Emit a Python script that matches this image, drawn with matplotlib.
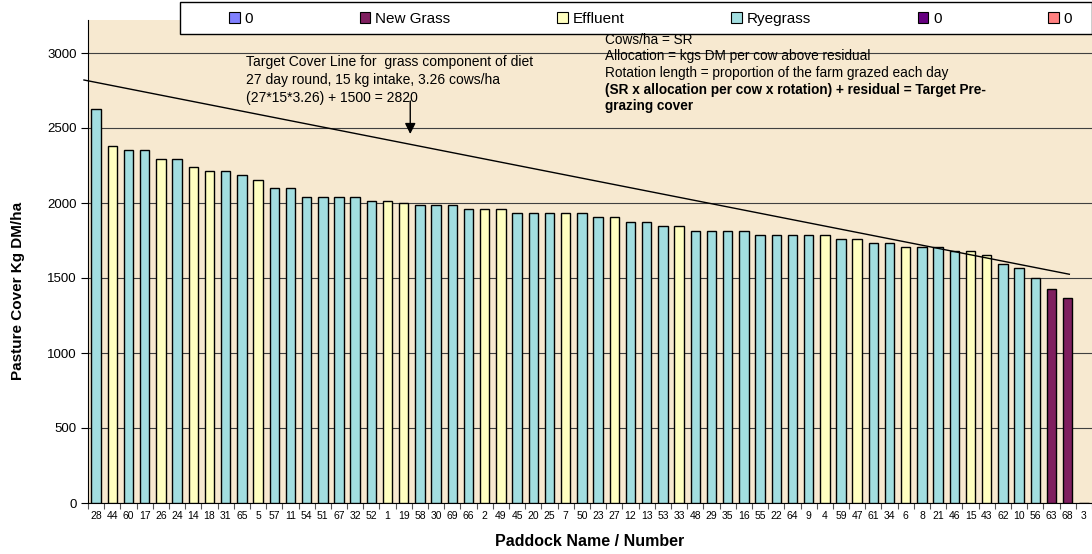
import matplotlib
matplotlib.use("Agg")
import matplotlib.pyplot as plt
from matplotlib.patches import Patch, Rectangle

plt.rcParams['font.family'] = ['Liberation Sans', 'DejaVu Sans']

# paddocks in ranked order, pasture cover (kg DM/ha) and paddock type
paddocks = ['28', '44', '60', '17', '26', '24', '14', '18', '31', '65',
            '5', '57', '11', '54', '51', '67', '32', '52', '1', '19',
            '58', '30', '69', '66', '2', '49', '45', '20', '25', '7',
            '50', '23', '27', '12', '13', '53', '33', '48', '29', '35',
            '16', '55', '22', '64', '9', '4', '59', '47', '61', '34',
            '6', '8', '21', '46', '15', '43', '62', '10', '56', '63',
            '68', '3']
cover = [2630, 2380, 2353, 2353, 2296, 2296, 2238, 2211, 2211, 2184,
         2156, 2100, 2100, 2042, 2042, 2042, 2042, 2015, 2015, 2000,
         1987, 1987, 1987, 1958, 1958, 1958, 1931, 1931, 1931, 1931,
         1931, 1905, 1905, 1875, 1875, 1845, 1845, 1815, 1815, 1815,
         1815, 1787, 1787, 1787, 1787, 1787, 1760, 1760, 1733, 1733,
         1707, 1707, 1707, 1680, 1680, 1653, 1596, 1567, 1502, 1427,
         1369, 0]
crop = ['R', 'E', 'R', 'R', 'E', 'R', 'E', 'E', 'R', 'R',
        'E', 'R', 'R', 'R', 'R', 'R', 'R', 'R', 'E', 'E',
        'R', 'R', 'R', 'R', 'E', 'E', 'R', 'R', 'R', 'E',
        'R', 'R', 'E', 'R', 'R', 'R', 'E', 'R', 'R', 'R',
        'R', 'R', 'R', 'R', 'R', 'E', 'R', 'E', 'R', 'R',
        'E', 'R', 'R', 'R', 'E', 'E', 'R', 'R', 'R', 'N',
        'N', 'R']

legend_labels = ['0', 'New Grass', 'Effluent', 'Ryegrass', '0', '0']
legend_colors = ['#8080FF', '#7F1F5F', '#FFFFC0', '#A2DEE0', '#660080', '#FF8080']
crop_colors = {'N': '#7F1F5F', 'E': '#FFFFC0', 'R': '#A2DEE0'}

# target cover line (kg DM/ha) and arrow
target_x = [-0.75, 60.1]
target_y = [2820, 1525]
arrow_x = 19.4
arrow_y = [2680, 2460]

fig = plt.figure(figsize=(10.92, 5.54), dpi=100)
ax = fig.add_axes([88 / 1092, 1 - 503 / 554, 1004 / 1092, 483 / 554])
ax.set_facecolor('#F7E9D0')

xs = list(range(len(paddocks)))
ax.bar(xs, cover, width=0.58, color=[crop_colors[c] for c in crop],
       edgecolor='black', linewidth=1, zorder=3)

ax.set_xlim(-0.5, len(paddocks) - 0.5)
ax.set_ylim(0, 3220)
ax.set_yticks(range(0, 3001, 500))
ax.yaxis.grid(True, color='#404040', linewidth=0.8, zorder=0)
ax.set_axisbelow(True)

ax.set_xticks(xs)
ax.set_xticklabels(paddocks, fontsize=7.5)
ax.set_xticks([i - 0.5 for i in range(len(paddocks) + 1)], minor=True)
ax.tick_params(axis='x', which='major', length=0, pad=6)
ax.tick_params(axis='x', which='minor', length=4, width=0.8, color='#555555')
ax.tick_params(axis='y', length=5, width=0.8, labelsize=9.5, pad=3)

for s in ['top', 'right']:
    ax.spines[s].set_visible(False)
ax.spines['left'].set_linewidth(0.8)
ax.spines['bottom'].set_linewidth(0.8)

ax.set_ylabel('Pasture Cover Kg DM/ha', fontsize=11, fontweight='bold')
ax.yaxis.label.set_va('center')
ax.yaxis.set_label_coords(-0.0697, 0.44)
ax.set_xlabel('Paddock Name / Number', fontsize=11.5, fontweight='bold')
ax.xaxis.label.set_va('center')
ax.xaxis.set_label_coords(0.5, -0.079)

ax.plot(target_x, target_y, color='black', linewidth=1, zorder=4, clip_on=False)
ax.annotate('', xy=(arrow_x, arrow_y[1]), xytext=(arrow_x, arrow_y[0]),
            arrowprops=dict(arrowstyle='-|>', color='black', lw=1,
                            mutation_scale=16, shrinkA=0, shrinkB=0),
            zorder=5)

# legend box across the top
box = Rectangle((180 / 1092, 1 - 34 / 554), 912 / 1092, 32 / 554,
                transform=fig.transFigure, facecolor='white',
                edgecolor='black', linewidth=1, zorder=2)
fig.add_artist(box)
handles = [Patch(facecolor=c, edgecolor='black', linewidth=0.8) for c in legend_colors]
fig.legend(handles, legend_labels, loc='center left',
           bbox_to_anchor=(229 / 1092, 1 - 19 / 554), ncol=6, frameon=False,
           borderpad=0, borderaxespad=0, handlelength=0.7, handleheight=0.7,
           handletextpad=0.3, columnspacing=7.0, fontsize=11)

note1 = ['Target Cover Line for  grass component of diet',
         '27 day round, 15 kg intake, 3.26 cows/ha',
         '(27*15*3.26) + 1500 = 2820']
for i, line in enumerate(note1):
    fig.text(246 / 1092, 1 - (62 + 18 * i) / 554, line, fontsize=10,
             va='center', ha='left', zorder=10)

note2 = ['Cows/ha = SR',
         'Allocation = kgs DM per cow above residual',
         'Rotation length = proportion of the farm grazed each day',
         '(SR x allocation per cow x rotation) + residual = Target Pre-',
         'grazing cover']
for i, line in enumerate(note2):
    fig.text(605 / 1092, 1 - (39.5 + 16.7 * i) / 554, line, fontsize=9.8,
             va='center', ha='left', zorder=10,
             fontweight='bold' if i >= 3 else 'normal')

fig.savefig('out.png', dpi=100)
